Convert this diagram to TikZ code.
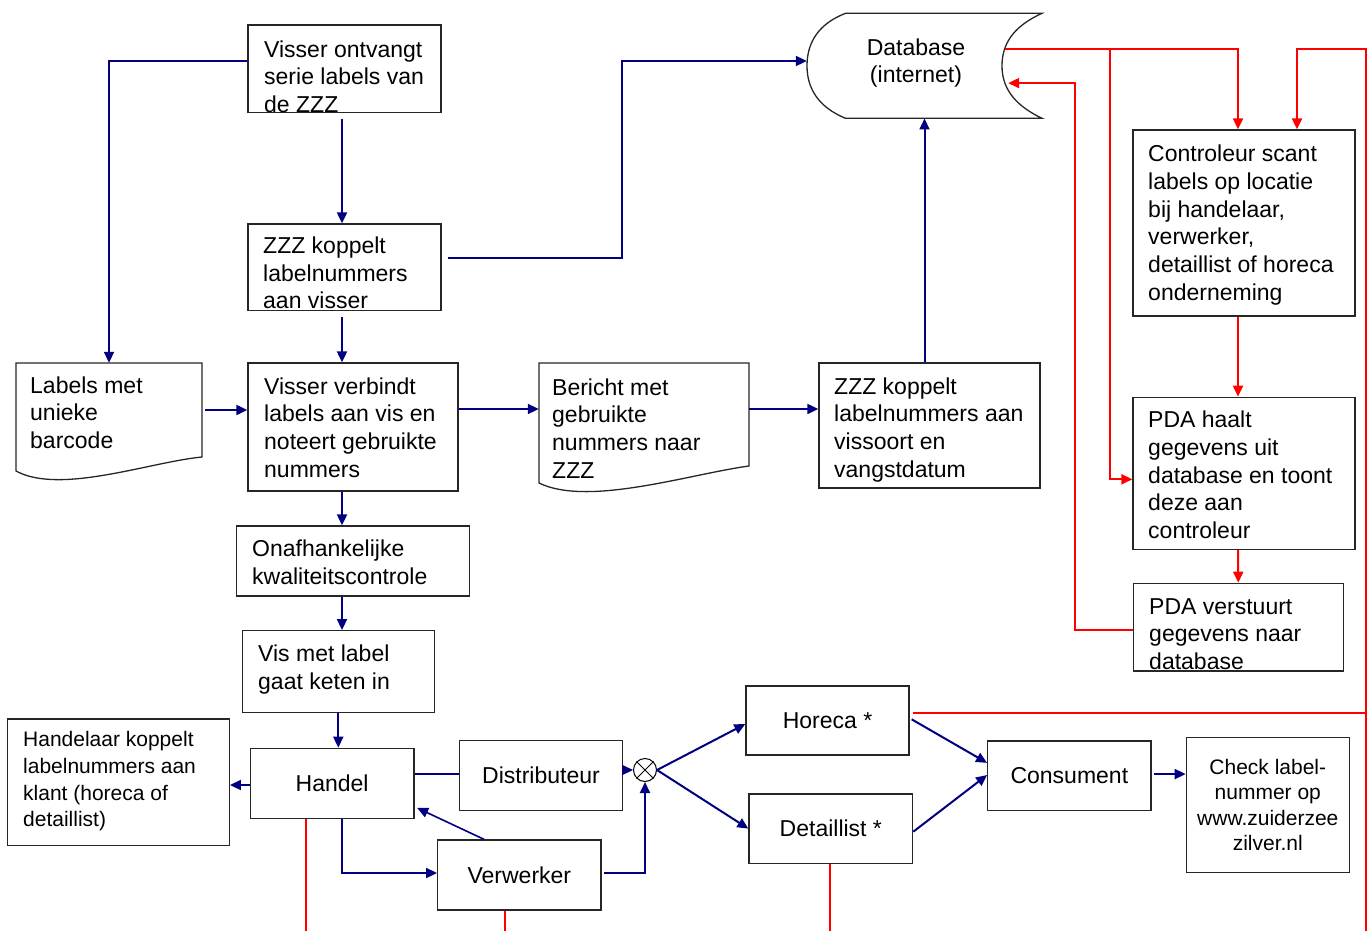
\documentclass[tikz,border=0pt]{standalone}
\usepackage{fontspec}
\setmainfont{Liberation Sans}
\usetikzlibrary{arrows.meta,calc}
\definecolor{navyc}{RGB}{0,0,128}
\definecolor{redc}{RGB}{255,0,0}
\newcommand\fa{\fontsize{23}{27.7}\selectfont}
\newcommand\fb{\fontsize{21}{25.3}\selectfont}
\newcommand\fc{\fontsize{21}{26.7}\selectfont}
\begin{document}
\begin{tikzpicture}[x=1pt,y=-1pt,
 box/.style={draw=black!85, line width=1.3pt, inner sep=0pt, font=\fa, align=center},
 ghost/.style={inner sep=0pt, draw=none},
 shapeline/.style={draw=black!85, line width=1.3pt},
 txt/.style={anchor=north west, inner sep=0pt, align=left, font=\fa},
 bl/.style={draw=navyc, line width=2pt, -{Triangle[length=11pt,width=10pt]}},
 bln/.style={draw=navyc, line width=2pt},
 rd/.style={draw=redc, line width=2pt, -{Triangle[length=11pt,width=10pt]}},
 rdn/.style={draw=redc, line width=2pt}]
\useasboundingbox (0,0) rectangle (1370,931);

% ---------- boxes ----------
\node[box, minimum width=193, minimum height=87.7] (b1) at (344.5,68.85) {};
\node[box, minimum width=193, minimum height=86.7] (b2) at (344.5,267.35) {};
\node[box, minimum width=210, minimum height=128] (vv) at (353,427) {};
\node[box, minimum width=221, minimum height=125] (zzz2) at (929.5,425.5) {};
\node[box, minimum width=222, minimum height=186] (ctrl) at (1244,223) {};
\node[box, minimum width=222, minimum height=152] (pda1) at (1244,473.3) {};
\node[box, minimum width=210, minimum height=87.7] (pda2) at (1238.3,627.2) {};
\node[box, minimum width=232.6, minimum height=70] (onaf) at (353,561) {};
\node[box, minimum width=192, minimum height=81.6] (vis) at (338.3,671.5) {};
\node[box, minimum width=163.7, minimum height=70] (handel) at (332.15,783.3) {Handel};
\node[box, minimum width=222, minimum height=126.7] (hlaar) at (118.3,782.35) {};
\node[box, minimum width=163.4, minimum height=69.6] (dist) at (541,775.5) {Distributeur};
\node[box, minimum width=163.3, minimum height=70] (verw) at (519.35,875) {Verwerker};
\node[box, minimum width=163, minimum height=69] (hor) at (827.5,720.5) {Horeca *};
\node[box, minimum width=163.7, minimum height=69.3] (det) at (830.85,828.65) {Detaillist *};
\node[box, minimum width=163.3, minimum height=69.7] (cons) at (1069.35,775.85) {Consument};
\node[box, minimum width=163, minimum height=135.4, font=\fb] (chk) at (1267.8,805) {Check label-\\nummer op\\www.zuiderzee\\zilver.nl};
\node[draw=black, line width=1pt, circle, minimum size=23, inner sep=0pt] (j) at (645,770) {};
\draw[black, line width=1pt] (j.45) -- (j.225) (j.135) -- (j.315);

% document shapes
\node[ghost, minimum width=186, minimum height=94] (labels) at (109,410) {};
\draw[shapeline] (16,363) -- (202,363) -- (202,457) .. controls (150,462) and (60,495) .. (16,471) -- cycle;
\node[ghost, minimum width=210, minimum height=103] (ber) at (644,414.5) {};
\draw[shapeline] (539,363) -- (749,363) -- (749,466) .. controls (690,474) and (588,507) .. (539,483) -- cycle;

% database shape
\node[ghost, minimum width=235, minimum height=105] (db) at (924.5,65.8) {};
\draw[shapeline] (845.5,13.3) -- (1042,13.3) .. controls (1012,27) and (1002,45) .. (1002,65.8)
  .. controls (1002,86) and (1012,104) .. (1042,118.3) -- (845.5,118.3)
  .. controls (818,107) and (807,88) .. (807,65.8) .. controls (807,43) and (818,24) .. (845.5,13.3);
\node[anchor=north, inner sep=0pt, align=center, font=\fa] (tdb) at (916,35.6) {\strut Database\\(internet)};

% ---------- texts ----------
\node[txt] (t1) at (264,37.6) {\strut Visser ontvangt\\serie labels van\\de ZZZ};
\node[txt] (t2) at (263,233.9) {\strut ZZZ koppelt\\labelnummers\\aan visser};
\node[txt] (tl) at (30,373.6) {\strut Labels met\\unieke\\barcode};
\node[txt] (tv) at (264,374.6) {\strut Visser verbindt\\labels aan vis en\\noteert gebruikte\\nummers};
\node[txt] (tb) at (552,375.6) {\strut Bericht met\\gebruikte\\nummers naar\\ZZZ};
\node[txt] (tz) at (834,374.6) {\strut ZZZ koppelt\\labelnummers aan\\vissoort en\\vangstdatum};
\node[txt] (tc) at (1148,142.3) {\strut Controleur scant\\labels op locatie\\bij handelaar,\\verwerker,\\detaillist of horeca\\onderneming};
\node[txt] (tp1) at (1148,408.3) {\strut PDA haalt\\gegevens uit\\database en toont\\deze aan\\controleur};
\node[txt] (tp2) at (1149,594.6) {\strut PDA verstuurt\\gegevens naar\\database};
\node[txt] (to) at (252,537.3) {\strut Onafhankelijke\\kwaliteitscontrole};
\node[txt] (tvi) at (258,642.3) {\strut Vis met label\\gaat keten in};
\node[txt, font=\fc] (th) at (23,728) {\strut Handelaar koppelt\\labelnummers aan\\klant (horeca of\\detaillist)};

% ---------- blue connectors ----------
\draw[bl] ($(b1.west)+(0,-7.85)$) -| (labels.north);
\draw[bl] ($(b1.south)+(-2.5,5.5)$) -- ($(b2.north)+(-2.5,0)$);
\draw[bl] ($(b2.east)+(6,-9.35)$) -- ++(174,0) |- ($(db.west)+(0,-4.8)$);
\draw[bl] ($(b2.south)+(-2.5,6)$) -- ($(vv.north -| b2.south)+(-2.5,0)$);
\draw[bl] ($(labels.east)+(3,0)$) -- (vv.west |- labels.east);
\draw[bl] ($(vv.east)+(0,-18)$) coordinate (c1) -- (c1 -| ber.west);
\draw[bl] ($(ber.east)+(0,-5.5)$) coordinate (c2) -- (c2 -| zzz2.west);
\draw[bl] (db.south |- zzz2.north) -- (db.south);
\draw[bl] ($(vv.south)+(-11,0)$) -- ($(onaf.north)+(-11,0)$);
\draw[bl] ($(onaf.south)+(-11,0)$) -- ($(vis.north)+(3.7,0)$);
\draw[bl] (vis.south) -- (handel.north -| vis.south);
\draw[bl] ($(handel.west)+(0,1.7)$) coordinate (c3) -- (c3 -| hlaar.east);
\draw[bln] ($(handel.east)+(0,-9.3)$) coordinate (c4) -- (c4 -| dist.west);
\draw[bl] (dist.east |- j) -- (j.west);
\draw[bl, line width=1.6pt] ($(verw.north west)+(47,0)$) -- ($(handel.south east)+(2.5,-11)$);
\draw[bl] ($(handel.south)+(9.5,0)$) |- ($(verw.west)+(0,-2)$);
\draw[bl] ($(verw.east)+(2,-2.5)$) -| (j.south);
\draw[bl] (j.east) -- ($(hor.west)+(0,3.5)$);
\draw[bl] (j.east) -- (det.west);
\draw[bl] ($(hor.east)+(2,-1.2)$) -- ($(cons.west)+(0,-13)$);
\draw[bl] ($(det.east)+(0,3)$) -- ($(cons.west)+(0,-0.8)$);
\draw[bl] ($(cons.east)+(2,-1.8)$) coordinate (c5) -- (c5 -| chk.west);

% ---------- red connectors ----------
\coordinate (dbp1) at ($(db.north east)+(-37,35.7)$);
\coordinate (dbp2) at ($(db.north east)+(-34,70)$);
\coordinate (frb) at (1366,931);
\draw[rd] (dbp1) -| ($(ctrl.north)+(-6,0)$);
\draw[rd] ($(dbp1)+(105,0)$) |- ($(pda1.west)+(0,6)$);
\draw[rd] (frb) -- (frb |- dbp1) -| ($(ctrl.north)+(53,0)$);
\draw[rdn] ($(hor.east)+(3,-8)$) coordinate (c6) -- (c6 -| frb);
\draw[rd] ($(ctrl.south)+(-6,0)$) -- ($(pda1.north)+(-6,0)$);
\draw[rd] ($(pda1.south)+(-6,0)$) -- (pda2.north);
\draw[rd] ($(pda2.west)+(0,2.8)$) -| ($(dbp2)+(67,0)$) -- (dbp2);
\draw[rdn] ($(handel.south)+(-26,0)$) -- ++(0,113);
\draw[rdn] ($(verw.south)+(-14,0)$) -- ++(0,22);
\draw[rdn] ($(det.south)+(-0.85,0)$) -- ++(0,68);
\end{tikzpicture}
\end{document}
